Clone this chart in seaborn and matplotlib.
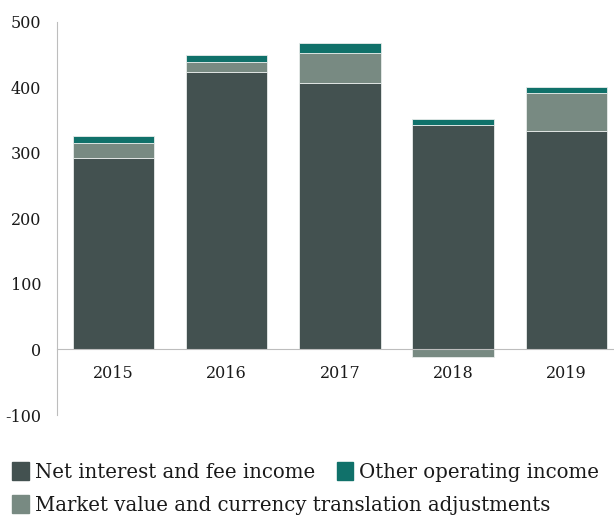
import numpy as np
import pandas as pd
import matplotlib
matplotlib.use("Agg")
import matplotlib.pyplot as plt
import seaborn as sns
from matplotlib.patches import Patch

# values
years = ["2015", "2016", "2017", "2018", "2019"]
net_interest = [292, 423.5, 407, 342, 334]
market_value = [22.5, 15, 46, -11.5, 57.5]
other_income = [11, 11, 15, 10, 9]

c_net = "#435150"
c_market = "#788a82"
c_other = "#10716a"

sns.set_style("white")
plt.rcParams["font.family"] = ["DejaVu Serif"]
plt.rcParams["axes.unicode_minus"] = False

df = pd.DataFrame({"year": years, "net": net_interest,
                   "market": market_value, "other": other_income})
# positive market adjustments sit on top of net income, negatives go below zero
df["market_bottom"] = np.where(df["market"] >= 0, df["net"], 0)
df["other_bottom"] = df["net"] + df["market"].clip(lower=0)

fig = plt.figure(figsize=(6.14, 5.17), dpi=100)
ax = fig.add_axes([56.7 / 614, 102 / 517, 566.5 / 614, 393.3 / 517])

bar_kw = dict(width=0.72, edgecolor="#e8ecea", linewidth=0.6)
sns.barplot(data=df, x="year", y="net", color=c_net, ax=ax, **bar_kw)
sns.barplot(data=df, x="year", y="market", bottom=df["market_bottom"],
            color=c_market, ax=ax, **bar_kw)
sns.barplot(data=df, x="year", y="other", bottom=df["other_bottom"],
            color=c_other, ax=ax, **bar_kw)
# seaborn sets colours with saturation, put the exact ones back
for patch, col in zip(ax.patches, [c_net] * 5 + [c_market] * 5 + [c_other] * 5):
    patch.set_facecolor(col)

ax.set_xlim(-0.5, 4.5)
ax.set_ylim(-100, 500)
ax.set_yticks(range(-100, 501, 100))
ax.set_xlabel("")
ax.set_ylabel("")

for s in ["top", "right"]:
    ax.spines[s].set_visible(False)
ax.spines["left"].set_color("#bdbdbd")
ax.spines["bottom"].set_color("#bdbdbd")
ax.spines["bottom"].set_position(("data", 0))

ax.tick_params(axis="y", direction="in", length=5, color="#bdbdbd",
               pad=11, labelsize=11.5, labelcolor="#1a1a1a")
ax.set_xticks(range(5))
ax.set_xticklabels(years)
ax.set_xticks([0.5, 1.5, 2.5, 3.5], minor=True)
ax.tick_params(axis="x", which="major", length=0, pad=11,
               labelsize=11.5, labelcolor="#1a1a1a")
ax.tick_params(axis="x", which="minor", direction="in", length=4,
               color="#bdbdbd")

h_net = Patch(color=c_net, label="Net interest and fee income")
h_other = Patch(color=c_other, label="Other operating income")
h_market = Patch(color=c_market, label="Market value and currency translation adjustments")

leg_kw = dict(frameon=False, fontsize=14.2, handlelength=0.85, handleheight=1.05,
              handletextpad=0.3, borderaxespad=0, borderpad=0, columnspacing=1.1,
              labelcolor="#1a1a1a")
leg1 = fig.legend(handles=[h_net, h_other], ncol=2, loc="center left",
                  bbox_to_anchor=(12 / 614, 1 - 472 / 517), **leg_kw)
leg2 = fig.legend(handles=[h_market], loc="center left",
                  bbox_to_anchor=(12 / 614, 1 - 505 / 517), **leg_kw)

fig.savefig("out.png", dpi=100)
